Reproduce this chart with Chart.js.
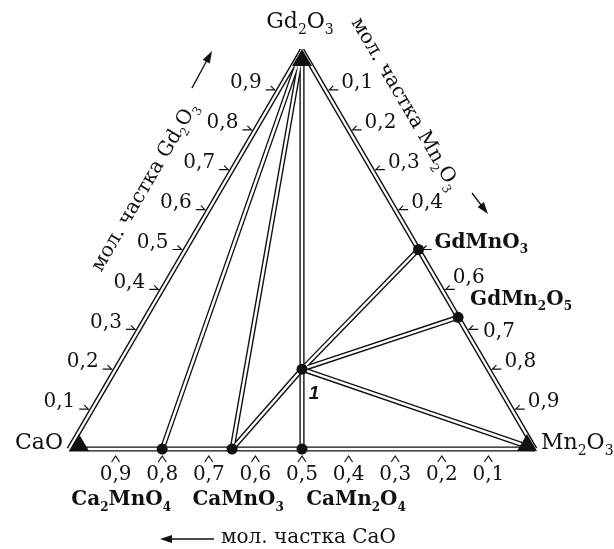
<!DOCTYPE html>
<html>
<head>
<meta charset="utf-8">
<script src="https://cdn.jsdelivr.net/npm/chart.js@4/dist/chart.umd.min.js"></script>
<style>
  html, body { margin: 0; padding: 0; background: #fff; }
  canvas { display: block; }
</style>
</head>
<body>
<canvas id="diagram" width="614" height="549"></canvas>
<script>
// вершины: мольные доли (CaO, Mn2O3, Gd2O3)
const vertexNames = ['CaO', 'Mn_2O_3', 'Gd_2O_3'];
const vertexCaO = [1, 0, 0];
const vertexMn = [0, 1, 0];
const vertexGd = [0, 0, 1];

// фазы на диаграмме
const phaseNames = ['Ca_2MnO_4', 'CaMnO_3', 'CaMn_2O_4', 'GdMnO_3', 'GdMn_2O_5', '1'];
const phaseCaO = [0.8, 0.65, 0.5, 0, 0, 0.4];
const phaseMn = [0.2, 0.35, 0.5, 0.5, 0.67, 0.4];
const phaseGd = [0, 0, 0, 0.5, 0.33, 0.2];

// стороны треугольника и коноды
const tieFrom = ['CaO', 'CaO', 'Mn_2O_3', 'Gd_2O_3', 'Gd_2O_3', 'Gd_2O_3', '1', '1', '1', '1'];
const tieTo = ['Mn_2O_3', 'Gd_2O_3', 'Gd_2O_3', 'Ca_2MnO_4', 'CaMnO_3', 'CaMn_2O_4', 'CaMnO_3', 'GdMnO_3', 'GdMn_2O_5', 'Mn_2O_3'];

// шкалы
const tickValues = [0.1, 0.2, 0.3, 0.4, 0.5, 0.6, 0.7, 0.8, 0.9];
const tickLabels = ['0,1', '0,2', '0,3', '0,4', '0,5', '0,6', '0,7', '0,8', '0,9'];
const rightTickLabels = ['0,1', '0,2', '0,3', '0,4', '', '0,6', '0,7', '0,8', '0,9'];

const axisTitleGd = 'мол. частка Gd_2O_3';
const axisTitleMn = 'мол. частка Mn_2O_3';
const axisTitleCaO = 'мол. частка CaO';

// перевод в координаты треугольника
function toXY(ca, mn, gd) {
    return { x: mn + gd / 2, y: gd };
}

const comp = {};
vertexNames.forEach((n, i) => comp[n] = toXY(vertexCaO[i], vertexMn[i], vertexGd[i]));
phaseNames.forEach((n, i) => comp[n] = toXY(phaseCaO[i], phaseMn[i], phaseGd[i]));

const datasets = [];
tieFrom.forEach((a, i) => {
    const pts = [comp[a], comp[tieTo[i]]];
    datasets.push({ data: pts, showLine: true, borderColor: '#111', borderWidth: 5.2, pointRadius: 0, borderCapStyle: 'butt', order: 3, clip: false });
    datasets.push({ data: pts, showLine: true, borderColor: '#fff', borderWidth: 2.4, pointRadius: 0, borderCapStyle: 'butt', order: 2, clip: false });
});
datasets.push({
    data: phaseNames.map(n => comp[n]),
    showLine: false,
    pointRadius: 5.5,
    pointBackgroundColor: '#111',
    pointBorderColor: '#111',
    pointBorderWidth: 0,
    order: 1,
    clip: false
});

// текст с нижними индексами: "Gd_2O_3"
function richText(ctx, str, x, y, size, opts) {
    opts = opts || {};
    const weight = opts.bold ? 'bold ' : '';
    const family = opts.family || '"DejaVu Serif", serif';
    const parts = [];
    for (let i = 0; i < str.length; i++) {
        if (str[i] === '_') { parts.push({ t: str[i + 1], sub: true }); i++; }
        else if (parts.length && !parts[parts.length - 1].sub) parts[parts.length - 1].t += str[i];
        else parts.push({ t: str[i], sub: false });
    }
    const subSize = Math.round(size * 0.62);
    let w = 0;
    parts.forEach(p => {
        ctx.font = weight + (p.sub ? subSize : size) + 'px ' + family;
        p.w = ctx.measureText(p.t).width;
        w += p.w;
    });
    let cx = x;
    if (opts.align === 'center') cx = x - w / 2;
    if (opts.align === 'right') cx = x - w;
    ctx.textBaseline = 'middle';
    ctx.textAlign = 'left';
    ctx.fillStyle = '#111';
    parts.forEach(p => {
        ctx.font = weight + (p.sub ? subSize : size) + 'px ' + family;
        ctx.fillText(p.t, cx, p.sub ? y + size * 0.38 : y);
        cx += p.w;
    });
    return w;
}

function arrow(ctx, x1, y1, x2, y2) {
    const a = Math.atan2(y2 - y1, x2 - x1);
    ctx.strokeStyle = '#111';
    ctx.lineWidth = 1.4;
    ctx.beginPath();
    ctx.moveTo(x1, y1);
    ctx.lineTo(x2 - 8 * Math.cos(a), y2 - 8 * Math.sin(a));
    ctx.stroke();
    ctx.fillStyle = '#111';
    ctx.beginPath();
    ctx.moveTo(x2, y2);
    ctx.lineTo(x2 - 12 * Math.cos(a) + 4 * Math.sin(a), y2 - 12 * Math.sin(a) - 4 * Math.cos(a));
    ctx.lineTo(x2 - 12 * Math.cos(a) - 4 * Math.sin(a), y2 - 12 * Math.sin(a) + 4 * Math.cos(a));
    ctx.closePath();
    ctx.fill();
}

// сдвиги подписей правой шкалы рядом с GdMn2O5
const rightLabelShift = { '0,6': [-5, -5], '0,7': [2, 9] };

const decorPlugin = {
    id: 'decor',
    afterDatasetsDraw(chart) {
        const ctx = chart.ctx;
        const sx = chart.scales.x, sy = chart.scales.y;
        const px = p => ({ x: sx.getPixelForValue(p.x), y: sy.getPixelForValue(p.y) });
        ctx.save();

        // метки шкал
        ctx.strokeStyle = '#111';
        ctx.lineWidth = 1.2;
        tickValues.forEach((f, i) => {
            // левая сторона: Gd2O3
            let p = px(toXY(1 - f, 0, f));
            ctx.beginPath();
            ctx.moveTo(p.x - 13, p.y); ctx.lineTo(p.x - 4, p.y); ctx.lineTo(p.x - 8, p.y - 4);
            ctx.stroke();
            richText(ctx, tickLabels[i], p.x - 17, p.y - 7, 20, { align: 'right' });

            // правая сторона: Mn2O3
            p = px(toXY(0, f, 1 - f));
            ctx.beginPath();
            ctx.moveTo(p.x + 13, p.y); ctx.lineTo(p.x + 4, p.y); ctx.lineTo(p.x + 8, p.y - 4);
            ctx.stroke();
            const lbl = rightTickLabels[i];
            if (lbl) {
                const s = rightLabelShift[lbl] || [0, 0];
                richText(ctx, lbl, p.x + 16 + s[0], p.y - 7 + s[1], 20);
            }

            // основание: CaO
            p = px(toXY(f, 1 - f, 0));
            ctx.beginPath();
            ctx.moveTo(p.x - 4, p.y + 13); ctx.lineTo(p.x, p.y + 7); ctx.lineTo(p.x + 4, p.y + 13);
            ctx.stroke();
            richText(ctx, tickLabels[i], p.x, p.y + 26, 20, { align: 'center' });
        });

        // треугольники в вершинах
        ctx.fillStyle = '#111';
        const tri = (x, y) => {
            ctx.beginPath();
            ctx.moveTo(x, y); ctx.lineTo(x + 10, y + 17); ctx.lineTo(x - 10, y + 17); ctx.closePath(); ctx.fill();
        };
        const vCa = px(comp['CaO']), vMn = px(comp['Mn_2O_3']), vGd = px(comp['Gd_2O_3']);
        tri(vGd.x, vGd.y - 1);
        tri(vCa.x + 10, vCa.y - 15);
        tri(vMn.x - 8, vMn.y - 15);

        // подписи вершин
        richText(ctx, 'Gd_2O_3', vGd.x - 2, vGd.y - 28, 22, { align: 'center' });
        richText(ctx, 'CaO', vCa.x - 6, vCa.y - 6, 22, { align: 'right' });
        richText(ctx, 'Mn_2O_3', vMn.x + 6, vMn.y - 6, 22);

        // подписи фаз
        const lab = {
            'Ca_2MnO_4': [-41, 51, 'center'], 'CaMnO_3': [6, 51, 'center'], 'CaMn_2O_4': [54, 51, 'center'],
            'GdMnO_3': [16, -7, 'left'], 'GdMn_2O_5': [12, -18, 'left']
        };
        Object.keys(lab).forEach(n => {
            const p = px(comp[n]);
            richText(ctx, n, p.x + lab[n][0], p.y + lab[n][1], 20, { bold: true, align: lab[n][2] });
        });
        const p1 = px(comp['1']);
        ctx.font = 'bold italic 19px "Liberation Sans", sans-serif';
        ctx.textAlign = 'center'; ctx.textBaseline = 'middle'; ctx.fillStyle = '#111';
        ctx.fillText('1', p1.x + 12, p1.y + 25);

        // названия осей
        const ang = Math.atan2(vCa.y - vGd.y, vGd.x - vCa.x);
        ctx.save();
        ctx.translate(vCa.x + 76, vCa.y - 262);
        ctx.rotate(-ang);
        richText(ctx, axisTitleGd, 0, 0, 20, { align: 'center' });
        ctx.restore();
        arrow(ctx, vCa.x + 123, vCa.y - 361, vCa.x + 143, vCa.y - 398);

        ctx.save();
        ctx.translate(vMn.x - 130, vMn.y - 345);
        ctx.rotate(ang);
        richText(ctx, axisTitleMn, 0, 0, 20, { align: 'center' });
        ctx.restore();
        arrow(ctx, vMn.x - 63, vMn.y - 256, vMn.x - 47, vMn.y - 235);

        richText(ctx, axisTitleCaO, vCa.x + 152, vCa.y + 89, 20);
        arrow(ctx, vCa.x + 145, vCa.y + 90, vCa.x + 91, vCa.y + 90);

        ctx.restore();
    }
};

new Chart(document.getElementById('diagram'), {
    type: 'scatter',
    data: { datasets: datasets },
    options: {
        responsive: false,
        animation: false,
        layout: { padding: { left: 69, right: 79, top: 50, bottom: 100 } },
        scales: {
            x: { type: 'linear', min: 0, max: 1, display: false },
            y: { type: 'linear', min: 0, max: 1, display: false }
        },
        plugins: { legend: { display: false }, tooltip: { enabled: false } }
    },
    plugins: [decorPlugin]
});
</script>
</body>
</html>
